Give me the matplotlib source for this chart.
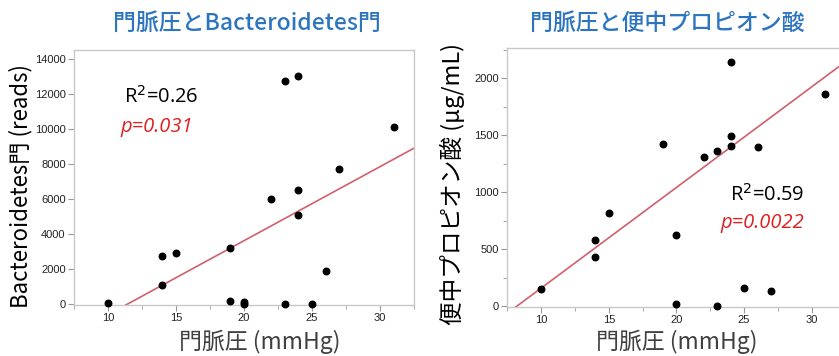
import matplotlib
matplotlib.use("Agg")
import matplotlib.pyplot as plt
from matplotlib.ticker import MultipleLocator

# Left panel: portal pressure vs Bacteroidetes reads
bact_x = [10, 14, 14, 15, 19, 19, 20, 20, 22, 23, 23, 24, 24, 24, 25, 26, 27, 31]
bact_y = [100, 2760, 1090, 2930, 3220, 190, 130, 30, 6040, 12740, 0, 13030, 6550, 5090, 0, 1900, 7750, 10130]
bact_fit = (423.0, -4826.0)   # slope, intercept
bact_stats = ("R$^2$=0.26", "p=0.031")

# Right panel: portal pressure vs fecal propionate
prop_x = [10, 14, 14, 15, 19, 20, 20, 22, 23, 23, 24, 24, 24, 25, 26, 27, 31]
prop_y = [146, 580, 433, 814, 1426, 626, 15, 1306, 1364, 0, 2146, 1496, 1408, 158, 1397, 132, 1866]
prop_fit = (88.4, -727.0)
prop_stats = ("R$^2$=0.59", "p=0.0022")

JP = ["Noto Sans CJK JP", "DejaVu Sans"]
TITLE_BLUE = "#2e75c0"
LINE_RED = "#d0606a"
SPINE = "#c8c8c8"

W, H = 839, 356
fig = plt.figure(figsize=(W / 100, H / 100), dpi=100)


def px(l, t, r, b):
    return [l / W, 1 - b / H, (r - l) / W, (b - t) / H]


def at(x, y):
    # pixel position from the top-left corner -> figure fraction
    return x / W, 1 - y / H


def style(ax):
    for s in ax.spines.values():
        s.set_color(SPINE)
        s.set_linewidth(1.0)
    ax.tick_params(which="both", direction="out", color="#999999", labelsize=8,
                   labelcolor="#222222", pad=2)
    ax.tick_params(which="major", length=4)
    ax.tick_params(which="minor", length=3)
    for lab in ax.get_xticklabels() + ax.get_yticklabels():
        lab.set_family("Liberation Sans")
    ax.xaxis.set_major_locator(MultipleLocator(5))
    ax.xaxis.set_minor_locator(MultipleLocator(2.5))


def fit_line(ax, fit, xlim):
    m, c = fit
    xs = [xlim[0], xlim[1]]
    ax.plot(xs, [m * v + c for v in xs], color=LINE_RED, lw=1.2, zorder=2)


xlim = (7.5, 32.5)

# ---- left
ax1 = fig.add_axes(px(74, 50, 414, 304.5))
ax1.scatter(bact_x, bact_y, s=22, color="black", zorder=3, clip_on=False)
fit_line(ax1, bact_fit, xlim)
ax1.set_xlim(*xlim)
ax1.set_ylim(-12, 14530)
ax1.yaxis.set_major_locator(MultipleLocator(2000))
style(ax1)
fig.text(*at(124, 97), bact_stats[0], fontsize=14.5, family="Open Sans",
         va="center", ha="left")
fig.text(*at(120, 127), bact_stats[1], fontsize=14.5, family="Open Sans", style="italic",
         color="#e02020", va="center", ha="left")

# ---- right
ax2 = fig.add_axes(px(507.3, 48.3, 845.6, 306.7))
ax2.scatter(prop_x, prop_y, s=22, color="black", zorder=3, clip_on=False)
fit_line(ax2, prop_fit, xlim)
ax2.set_xlim(*xlim)
ax2.set_ylim(-6, 2263)
ax2.yaxis.set_major_locator(MultipleLocator(500))
ax2.yaxis.set_minor_locator(MultipleLocator(250))
style(ax2)
fig.text(*at(804, 195), prop_stats[0], fontsize=14.5, family="Open Sans",
         va="center", ha="right")
fig.text(*at(804, 223), prop_stats[1], fontsize=14.5, family="Open Sans", style="italic",
         color="#e02020", va="center", ha="right")

# titles and axis labels
fig.text(*at(247, 23), "門脈圧とBacteroidetes門", family=JP, fontsize=16.5,
         weight="medium", color=TITLE_BLUE, ha="center", va="center")
fig.text(*at(667, 23), "門脈圧と便中プロピオン酸", family=JP, fontsize=16.5,
         weight="medium", color=TITLE_BLUE, ha="center", va="center")
fig.text(*at(21, 186), "Bacteroidetes門 (reads)", family=JP, fontsize=16,
         rotation=90, ha="center", va="center", color="black")
fig.text(*at(452, 184), "便中プロピオン酸 (μg/mL)", family=JP, fontsize=17,
         rotation=90, ha="center", va="center", color="black")
fig.text(*at(260, 342), "門脈圧 (mmHg)", family=JP, fontsize=16.5,
         ha="center", va="center", color="#404040")
fig.text(*at(677, 342), "門脈圧 (mmHg)", family=JP, fontsize=16.5,
         ha="center", va="center", color="#404040")

fig.savefig("out.png", dpi=100)
